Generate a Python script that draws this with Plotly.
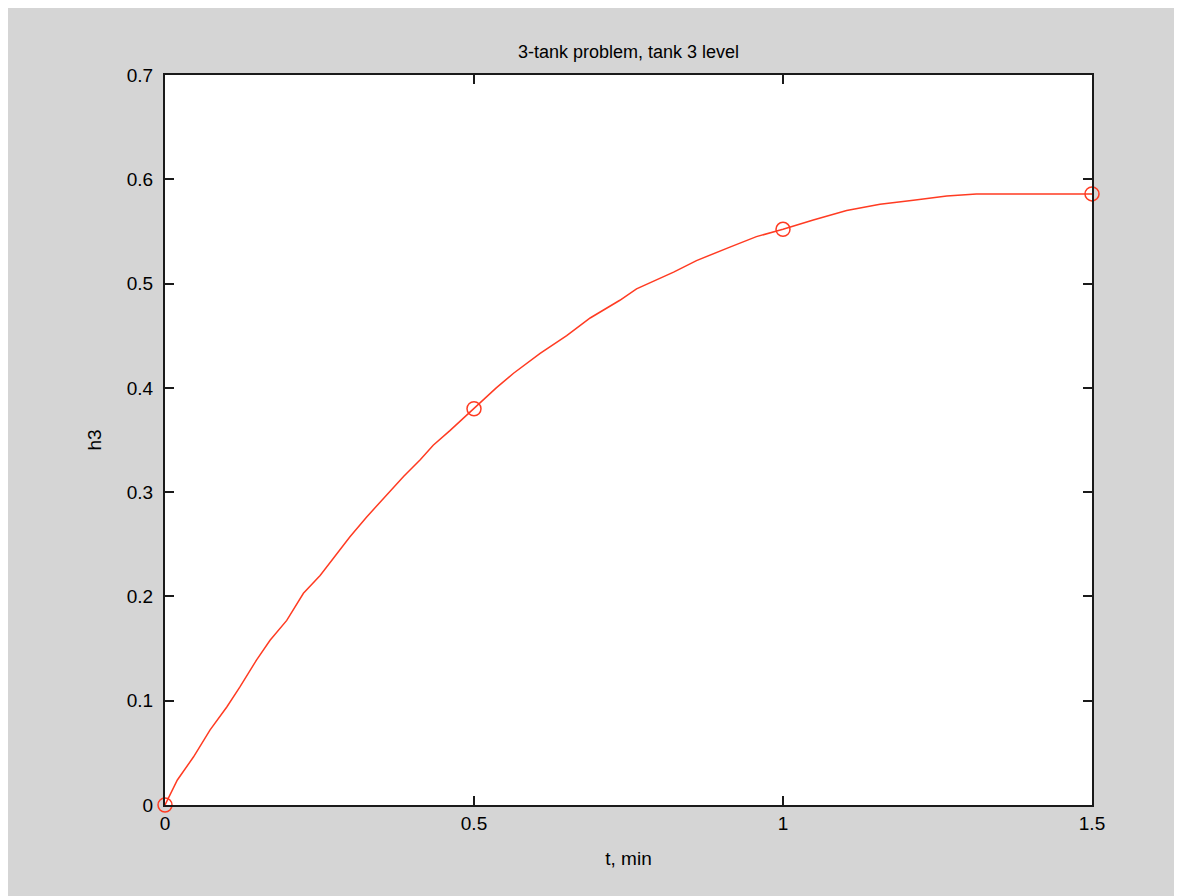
import plotly.graph_objects as go

# Dense solution curve
t_curve = [0, 0.02, 0.046, 0.073, 0.10, 0.121, 0.148, 0.170, 0.197, 0.224, 0.251,
           0.299, 0.326, 0.361, 0.386, 0.413, 0.434, 0.461, 0.5, 0.536, 0.564,
           0.607, 0.650, 0.688, 0.736, 0.763, 0.823, 0.860, 0.914, 0.957, 1.0,
           1.049, 1.103, 1.157, 1.211, 1.265, 1.313, 1.5]
h_curve = [0, 0.024, 0.046, 0.072, 0.094, 0.113, 0.139, 0.158, 0.177, 0.203, 0.220,
           0.257, 0.276, 0.299, 0.315, 0.331, 0.345, 0.359, 0.380, 0.400, 0.414,
           0.433, 0.450, 0.467, 0.484, 0.495, 0.511, 0.522, 0.535, 0.545, 0.552,
           0.561, 0.570, 0.576, 0.580, 0.584, 0.586, 0.586]

# Marked sample points
t_marks = [0, 0.5, 1.0, 1.5]
h_marks = [0, 0.380, 0.552, 0.586]

x_ticks = [0, 0.5, 1, 1.5]
x_ticklabels = ["0", "0.5", "1", "1.5"]
y_ticks = [0, 0.1, 0.2, 0.3, 0.4, 0.5, 0.6, 0.7]
y_ticklabels = ["0", "0.1", "0.2", "0.3", "0.4", "0.5", "0.6", "0.7"]

LINE = "#ff3b22"
FONT = "Liberation Sans, Arial, sans-serif"
W, H = 1174, 888
L, R, T, B = 157, 90, 67, 91

fig = go.Figure()
fig.add_trace(go.Scatter(x=t_curve, y=h_curve, mode="lines",
                         line=dict(color=LINE, width=1.5), showlegend=False,
                         hoverinfo="skip"))
fig.add_trace(go.Scatter(x=t_marks, y=h_marks, mode="markers",
                         marker=dict(symbol="circle-open", size=14, color=LINE,
                                     line=dict(width=1.5, color=LINE)),
                         showlegend=False, cliponaxis=False))

axis_common = dict(showgrid=False, zeroline=False, showline=True, mirror="ticks",
                   linecolor="#1a1a1a", linewidth=2, ticks="inside", ticklen=9,
                   tickwidth=1.5, tickcolor="#1a1a1a",
                   tickfont=dict(family=FONT, size=19, color="black"))

fig.update_xaxes(range=[0, 1.5], tickvals=x_ticks, ticktext=x_ticklabels,
                 title=dict(text="t, min", font=dict(family=FONT, size=19, color="black"),
                            standoff=19), **axis_common)
fig.update_yaxes(range=[0, 0.7], tickvals=y_ticks, ticktext=y_ticklabels,
                 ticklabelstandoff=6,
                 title=dict(text="h3", font=dict(family=FONT, size=19, color="black"),
                            standoff=20), **axis_common)

fig.update_layout(
    width=W, height=H,
    margin=dict(l=L, r=R, t=T, b=B, autoexpand=False),
    paper_bgcolor="#d5d5d5", plot_bgcolor="white",
    title=dict(text="3-tank problem, tank 3 level",
               x=(L + (W - L - R) / 2) / W, xanchor="center",
               y=1 - 44 / H, yanchor="middle",
               font=dict(family=FONT, size=18, color="black")),
)

fig.write_html("out.html")
